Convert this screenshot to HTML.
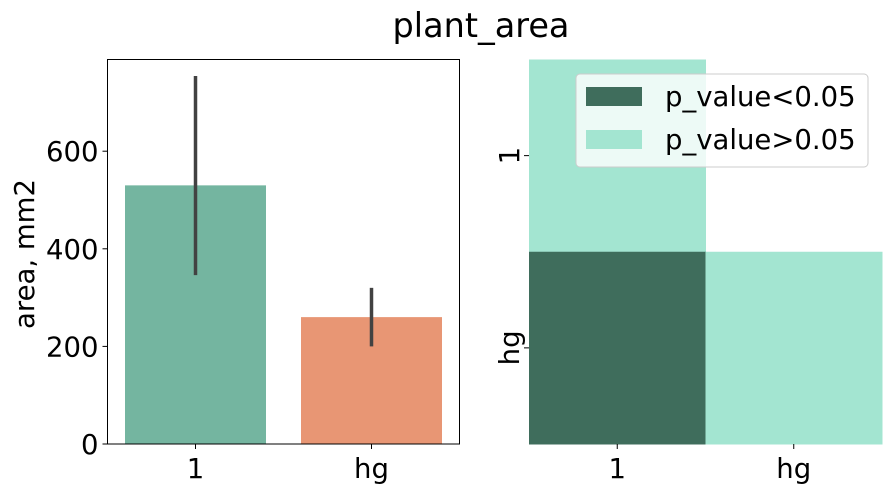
<!DOCTYPE html>
<html><head><meta charset="utf-8"><style>
body{margin:0;background:#fff;}
svg{display:block;font-family:"DejaVu Sans","Liberation Sans",sans-serif;}
</style></head><body>
<svg id="c" width="891" height="492">
<text x="481" y="37" font-size="33.5" text-anchor="middle">plant_area</text>
<g id="left"></g>
<g id="right"></g>
</svg>
<script>
const categories = ["1","hg"];
const means = [530, 260];
const errLow = [346, 200];
const errHigh = [754, 320];
const barColors = ["#74b5a0","#e89674"];
const yTicks = [0,200,400,600];
const heatRows = ["1","hg"];
const heatCols = ["1","hg"];
// 1 = p>0.05 (light), 0 = p<0.05 (dark), null = masked
const heatVals = [[1,null],[0,1]];
const legendLabels = ["p_value<0.05","p_value>0.05"];
const heatColors = ["#3f6d5c","#a3e5d1"];

const NS="http://www.w3.org/2000/svg";
function mk(t,a,p){const e=document.createElementNS(NS,t);for(const k in a)e.setAttribute(k,a[k]);p.appendChild(e);return e;}
const L=document.getElementById('left'), R=document.getElementById('right');
const FS=27.5;
const x0=107.5,x1=459.5,y0=59.5,y1=444;
const yS=v=>y1-v*(97.6/200);
const band=(x1-x0)/categories.length;
const xC=i=>x0+band*(i+0.5);
categories.forEach((c,i)=>{
  const b=mk('rect',{x:xC(i)-70.5,y:yS(means[i]),width:141,height:y1-yS(means[i]),fill:barColors[i]},L);
  
  
  const e=mk('line',{x1:xC(i),x2:xC(i),y1:yS(errLow[i]),y2:yS(errHigh[i]),stroke:'#424242','stroke-width':3.5},L);
  
  
  mk('line',{x1:xC(i),x2:xC(i),y1:y1,y2:y1+5,stroke:'#000'},L);
  const t=mk('text',{x:xC(i),y:478,'font-size':FS,'text-anchor':'middle'},L);t.textContent=c;
  
  
});
yTicks.forEach(v=>{
  mk('line',{x1:x0-5,x2:x0,y1:yS(v),y2:yS(v),stroke:'#000'},L);
  const t=mk('text',{x:x0-9,y:yS(v)+10,'font-size':FS,'text-anchor':'end'},L);t.textContent=v;
  
  
});
mk('rect',{x:x0,y:y0,width:x1-x0,height:y1-y0,fill:'none',stroke:'#000','stroke-width':1},L);
const yl=mk('text',{transform:'translate(34,254) rotate(-90)','font-size':FS,'text-anchor':'middle'},L);yl.textContent='area, mm2';



const hx0=529,hx1=882,hy0=59.5,hy1=444;
const cw=(hx1-hx0)/heatCols.length, ch=(hy1-hy0)/heatRows.length;
heatRows.forEach((r,ri)=>heatCols.forEach((c,ci)=>{
  const v=heatVals[ri][ci]; if(v===null)return;
  const cell=mk('rect',{x:hx0+ci*cw,y:hy0+ri*ch,width:cw+0.5,height:ch+0.5,fill:heatColors[v]},R);
  
  
}));
heatCols.forEach((c,i)=>{
  const x=hx0+cw*(i+0.5);
  mk('line',{x1:x,x2:x,y1:hy1,y2:hy1+5,stroke:'#000'},R);
  const t=mk('text',{x:x,y:478,'font-size':FS,'text-anchor':'middle'},R);t.textContent=c;
  
  
});
heatRows.forEach((r,i)=>{
  const y=hy0+ch*(i+0.5);
  mk('line',{x1:hx0-5,x2:hx0,y1:y,y2:y,stroke:'#000'},R);
  const t=mk('text',{transform:`translate(${hx0-10},${y}) rotate(-90)`,'font-size':FS,'text-anchor':'middle'},R);t.textContent=r;
  
  
});
const lg=mk('g',{},R);


mk('rect',{x:576,y:74,width:292,height:93,rx:4,fill:'rgba(255,255,255,0.8)',stroke:'#ccc'},lg);
legendLabels.forEach((l,i)=>{
  const y=87+i*43;
  const p=mk('rect',{x:586,y:y,width:56,height:19,fill:heatColors[i]},lg);
  
  
  const t=mk('text',{x:665,y:y+19,'font-size':FS},lg);t.textContent=l;
  
  
});
</script>
</body></html>
